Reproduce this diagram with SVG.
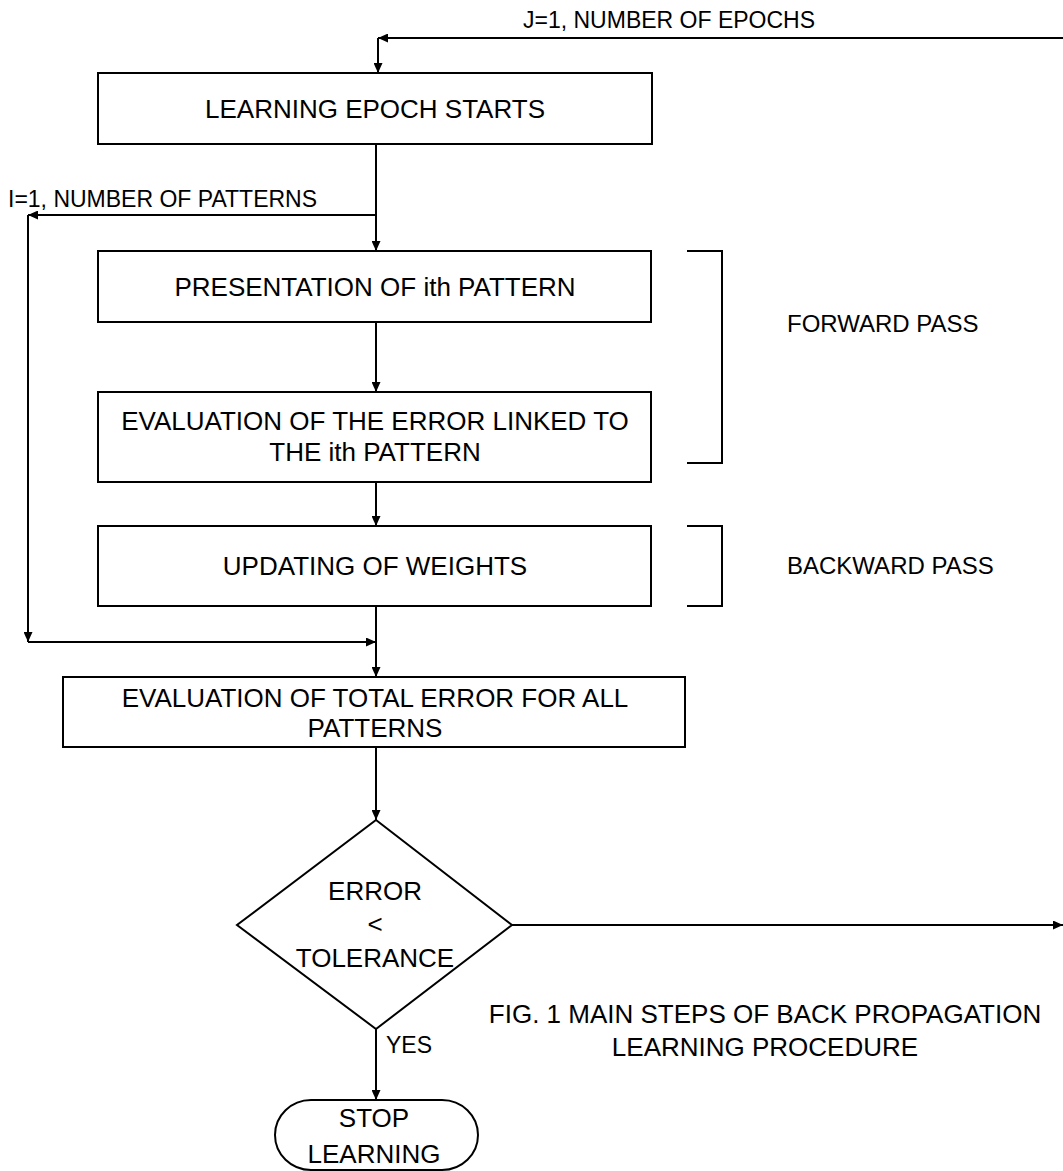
<svg xmlns="http://www.w3.org/2000/svg" width="1063" height="1171" viewBox="0 0 1063 1171">
<defs>
<marker id="ah" markerUnits="userSpaceOnUse" markerWidth="10" markerHeight="9" refX="10" refY="4.5" orient="auto">
<path d="M0,0 L10,4.5 L0,9 z" fill="#000"/>
</marker>
<style>
.box{fill:#fff;stroke:#000;stroke-width:2}
.ln{fill:none;stroke:#000;stroke-width:2}
.ar{fill:none;stroke:#000;stroke-width:2;marker-end:url(#ah)}
.t{font-family:"Liberation Sans",Arial,sans-serif;font-size:26px;fill:#000;text-anchor:middle}
.s{font-family:"Liberation Sans",Arial,sans-serif;font-size:23px;fill:#000}
</style>
</defs>
<rect width="1063" height="1171" fill="#fff"/>
<g id="connectors">
<path class="ar" d="M1063,38 H378"/>
<path class="ar" d="M378,38 V73"/>
<path class="ar" d="M376,144 V251"/>
<path class="ar" d="M376,215 H28"/>
<path class="ar" d="M28,215 V642"/>
<path class="ar" d="M28,642 H376"/>
<path class="ar" d="M376,322 V392"/>
<path class="ar" d="M376,482 V526"/>
<path class="ar" d="M376,606 V677"/>
<path class="ar" d="M376,747 V820"/>
<path class="ln" d="M376,1029 V1090"/>
<path class="ar" d="M376,1080 V1100"/>
<path class="ar" d="M512,925 H1063"/>
</g>
<g id="labels">
<text class="s" x="523" y="28">J=1, NUMBER OF EPOCHS</text>
<text class="s" x="8" y="207">I=1, NUMBER OF PATTERNS</text>
<text class="s" x="386" y="1053">YES</text>
</g>
<g id="n1"><rect class="box" x="98" y="73" width="554" height="71"/><text class="t" x="375" y="118">LEARNING EPOCH STARTS</text></g>
<g id="n2"><rect class="box" x="98" y="251" width="553" height="71"/><text class="t" x="375" y="296">PRESENTATION OF ith PATTERN</text></g>
<g id="n3"><rect class="box" x="98" y="392" width="553" height="90"/><text class="t" x="375" y="430">EVALUATION OF THE ERROR LINKED TO</text><text class="t" x="375" y="461">THE ith PATTERN</text></g>
<g id="n4"><rect class="box" x="98" y="526" width="553" height="80"/><text class="t" x="375" y="575">UPDATING OF WEIGHTS</text></g>
<g id="n5"><rect class="box" x="63" y="677" width="622" height="70"/><text class="t" x="375" y="707">EVALUATION OF TOTAL ERROR FOR ALL</text><text class="t" x="375" y="737">PATTERNS</text></g>
<g id="n6"><path class="box" d="M376,820 L512,925 L376,1029 L237,925 Z"/><text class="t" x="375" y="900">ERROR</text><text class="t" x="375" y="933">&lt;</text><text class="t" x="375" y="967">TOLERANCE</text></g>
<g id="n7"><rect class="box" x="275" y="1100" width="203" height="70" rx="36" ry="36"/><text class="t" x="374" y="1127">STOP</text><text class="t" x="374" y="1163">LEARNING</text></g>
<g id="fwd"><path class="ln" d="M687,251 H722 V463 H687"/><text class="s" x="787" y="332" style="font-size:24px">FORWARD PASS</text></g>
<g id="bwd"><path class="ln" d="M687,526 H722 V606 H687"/><text class="s" x="787" y="574" style="font-size:24px">BACKWARD PASS</text></g>
<g id="caption"><text class="t" x="765" y="1023">FIG. 1 MAIN STEPS OF BACK PROPAGATION</text><text class="t" x="765" y="1056">LEARNING PROCEDURE</text></g>
</svg>
